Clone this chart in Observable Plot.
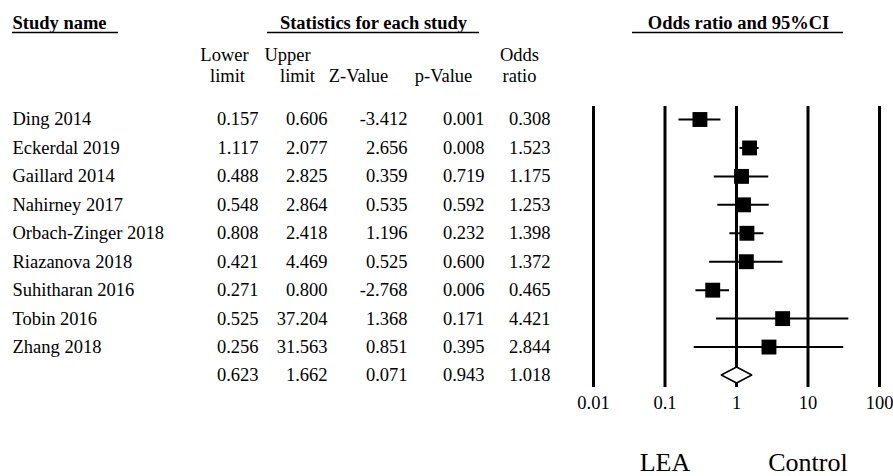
<!DOCTYPE html>
<html><head><meta charset="utf-8">
<script src="https://cdn.jsdelivr.net/npm/d3@7"></script>
<script src="https://cdn.jsdelivr.net/npm/@observablehq/plot@0.6"></script>
<style>
html,body{margin:0;padding:0;background:#fff;}
#chart{width:893px;height:476px;}
</style></head><body><div id="chart"></div>
<script>
// ---- data ----
const studies = ["Ding 2014","Eckerdal 2019","Gaillard 2014","Nahirney 2017","Orbach-Zinger 2018","Riazanova 2018","Suhitharan 2016","Tobin 2016","Zhang 2018"];
const lowerLimit = [0.157,1.117,0.488,0.548,0.808,0.421,0.271,0.525,0.256];
const upperLimit = [0.606,2.077,2.825,2.864,2.418,4.469,0.800,37.204,31.563];
const zValue     = [-3.412,2.656,0.359,0.535,1.196,0.525,-2.768,1.368,0.851];
const pValue     = [0.001,0.008,0.719,0.592,0.232,0.600,0.006,0.171,0.395];
const oddsRatio  = [0.308,1.523,1.175,1.253,1.398,1.372,0.465,4.421,2.844];
const summaryLower = 0.623, summaryUpper = 1.662, summaryZ = 0.071, summaryP = 0.943, summaryOR = 1.018;
const xTicks = [0.01, 0.1, 1, 10, 100];
const tickLabels = ["0.01","0.1","1","10","100"];
const sideLabels = ["LEA","Control"];
const sideAt = [0.1, 10];

// ---- layout ----
const W = 893, H = 476, ML = 593, MR = 14, MT = 106, MB = 89;
const FONT = "'Liberation Serif','Times New Roman',serif";
const FS = 18.5;

const studyRows = studies.map((name, i) => ({row: i, name, lower: lowerLimit[i], upper: upperLimit[i], z: zValue[i], p: pValue[i], or: oddsRatio[i]}));
const summaryRow = {row: studies.length, name: "", lower: summaryLower, upper: summaryUpper, z: summaryZ, p: summaryP, or: summaryOR};
const rows = [...studyRows, summaryRow];
const diamondHalf = 0.28;
const diamond = [
  {x: summaryLower, y1: summaryRow.row, y2: summaryRow.row},
  {x: summaryOR, y1: summaryRow.row - diamondHalf, y2: summaryRow.row + diamondHalf},
  {x: summaryUpper, y1: summaryRow.row, y2: summaryRow.row}
];

const at = (px, py) => ({frameAnchor: "top-left", dx: px - ML, dy: py - MT});
const header = (label, px, py, anchor, bold) =>
  Plot.text([label], {text: d => d, ...at(px, py), textAnchor: anchor, lineAnchor: "bottom", fontSize: FS, fontWeight: bold ? "bold" : "normal"});

const cols = [
  {key: "lower", right: 258},
  {key: "upper", right: 327},
  {key: "z", right: 407},
  {key: "p", right: 484},
  {key: "or", right: 550}
];

const underlines = [[12, 118, 32.5], [267, 479, 32.5], [632, 843, 32.5]];
const underlineMark = () => {
  const g = d3.create("svg:g");
  underlines.forEach(([x1, x2, y]) => g.append("line").attr("x1", x1).attr("x2", x2).attr("y1", y).attr("y2", y).attr("stroke", "black").attr("stroke-width", 1.6));
  return g.node();
};

const chart = Plot.plot({
  width: W, height: H,
  marginLeft: ML, marginRight: MR, marginTop: MT, marginBottom: MB,
  style: {fontFamily: FONT, background: "white", color: "black"},
  x: {type: "log", domain: [0.01, 100], axis: null},
  y: {domain: [0, 9], range: [119, 375], axis: null},
  marks: [
    // headers
    header("Study name", 12, 28, "start", true),
    header("Statistics for each study", 373, 28, "middle", true),
    header("Odds ratio and 95%CI", 738, 28, "middle", true),
    underlineMark,
    header("Lower", 224, 60, "middle"),
    header("limit", 227, 81, "middle"),
    header("Upper", 287, 60, "middle"),
    header("limit", 297, 81, "middle"),
    header("Z-Value", 358, 81, "middle"),
    header("p-Value", 443, 81, "middle"),
    header("Odds", 519, 60, "middle"),
    header("ratio", 519, 81, "middle"),
    // table
    Plot.text(rows, {y: "row", text: "name", frameAnchor: "left", dx: 12 - ML, textAnchor: "start", fontSize: FS}),
    ...cols.map(c => Plot.text(rows, {y: "row", text: d => d[c.key].toFixed(3), frameAnchor: "left", dx: c.right - ML, textAnchor: "end", fontSize: FS})),
    // forest
    Plot.ruleX(xTicks, {stroke: "black", strokeWidth: 3}),
    Plot.ruleY(studyRows, {y: "row", x1: "lower", x2: "upper", stroke: "black", strokeWidth: 2}),
    Plot.dot(studyRows, {x: "or", y: "row", symbol: "square", r: 8.4, fill: "black", stroke: null}),
    Plot.areaY(diamond, {x: "x", y1: "y1", y2: "y2", fill: "white", stroke: "black", strokeWidth: 1.5}),
    Plot.axisX(xTicks, {tickSize: 0, tickPadding: 8, tickFormat: d => tickLabels[xTicks.indexOf(d)], fontSize: FS, fill: "black"}),
    Plot.text(sideLabels, {x: sideAt, text: d => d, frameAnchor: "bottom", dy: 470 - (H - MB), lineAnchor: "bottom", fontSize: 26})
  ]
});
document.getElementById("chart").appendChild(chart);
</script></body></html>
